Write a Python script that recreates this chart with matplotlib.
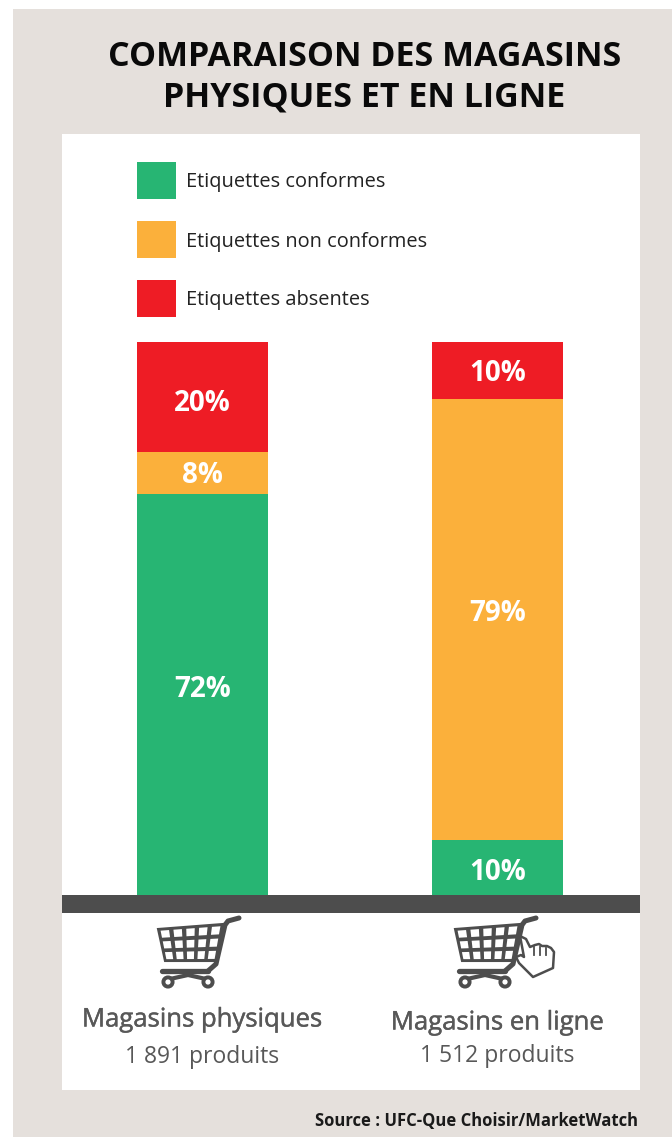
import matplotlib
matplotlib.use("Agg")
import matplotlib.pyplot as plt
from matplotlib.patches import Rectangle, Polygon, Circle
from matplotlib.lines import Line2D
import matplotlib.patheffects as pe
import numpy as np

W, H = 672, 1137
stores = ["Magasins physiques", "Magasins en ligne"]
counts = ["1 891 produits", "1 512 produits"]
series = ["Etiquettes conformes", "Etiquettes non conformes", "Etiquettes absentes"]
# printed percentages
conformes = [72, 10]
non_conformes = [8, 79]
absentes = [20, 10]
# segment heights as drawn in the picture (the printed figures are rounded)
conformes_drawn = [72.5, 10.0]
non_conformes_drawn = [7.6, 79.7]
absentes_drawn = [19.9, 10.3]
colors = ["#27B573", "#FBB03B", "#EE1C25"]
title_lines = ["COMPARAISON DES MAGASINS", "PHYSIQUES ET EN LIGNE"]
source = "Source : UFC-Que Choisir/MarketWatch"

fig = plt.figure(figsize=(W / 100, H / 100), dpi=100, facecolor="white")
bg = fig.add_axes([0, 0, 1, 1])
bg.set_xlim(0, W); bg.set_ylim(H, 0); bg.axis("off")
DARK = "#4D4D4D"
bg.add_patch(Rectangle((13, 9), W - 13, H - 9, fc="#E5E0DC", ec="none"))
bg.add_patch(Rectangle((62, 134), 578, 956, fc="white", ec="none"))
bg.add_patch(Rectangle((62, 895), 578, 18, fc=DARK, ec="none"))

ax = fig.add_axes([62 / W, 1 - 895 / H, 578 / W, 553 / H])
ax.patch.set_alpha(0); ax.axis("off")
ax.set_xlim(-140.5 / 295, 437.5 / 295); ax.set_ylim(0, 100)
labels = np.array([conformes, non_conformes, absentes])
heights = np.array([conformes_drawn, non_conformes_drawn, absentes_drawn])
label_shift = [[9, -2], [1, 9], [-3, 0]]  # pixels, upward, off the segment centre
bottom = np.zeros(2)
for i, c in enumerate(colors):
    ax.bar([0, 1], heights[i], 131 / 295, bottom=bottom, color=c, lw=0)
    for x in range(2):
        ax.annotate(f"{labels[i][x]}%", (x, bottom[x] + heights[i][x] / 2),
                    xytext=(0, label_shift[i][x] * 0.72), textcoords="offset points", color="white",
                    ha="center", va="center_baseline", fontsize=20, fontweight="bold", family="Open Sans")
    bottom += heights[i]

for line, y in zip(title_lines, [53, 93]):
    bg.text(364.5, y, line, ha="center", va="center_baseline", fontsize=24.5, fontweight="bold",
            family="Open Sans", color="#0A0A0A")

for name, c, y in zip(series, colors, [162, 221, 280]):
    bg.add_patch(Rectangle((137, y), 39, 37, fc=c, ec="none"))
    bg.text(186, y + 18, name, ha="left", va="center_baseline", fontsize=14.4,
            family="Open Sans", color="#222222")

def cart(dx, dy=0):
    z = 20
    basket = np.array([[158, 929], [223, 924], [216, 961], [165, 961]], float)
    basket += (dx, dy)
    bg.add_patch(Polygon(basket, fc=DARK, ec=DARK, lw=1.5, zorder=z))
    tl, tr, br, bl = basket
    nx, ny = 5, 3
    for i in range(nx):
        for j in range(ny):
            def pt(u, v):
                a = tl + (tr - tl) * u; b = bl + (br - bl) * u
                return a + (b - a) * v
            m = 0.17
            u0, u1 = (i + m) / nx, (i + 1 - m) / nx
            v0, v1 = (j + m) / ny, (j + 1 - m) / ny
            bg.add_patch(Polygon([pt(u0, v0), pt(u1, v0), pt(u1, v1), pt(u0, v1)],
                                 fc="white", ec="none", zorder=z + 1))
    bg.add_line(Line2D(np.array([239, 228, 225, 216, 208]) + dx,
                       np.array([918, 921, 925, 964, 971]) + dy, color=DARK, lw=3.6,
                       solid_capstyle="round", solid_joinstyle="round", zorder=z))
    bg.add_line(Line2D(np.array([162, 208]) + dx, np.array([971, 971]) + dy, color=DARK, lw=3.8,
                       solid_capstyle="round", zorder=z))
    bg.add_line(Line2D(np.array([170, 188, 206]) + dx, np.array([979, 975, 979]) + dy, color=DARK, lw=3, zorder=z))
    for wx in (168, 208):
        bg.add_patch(Circle((wx + dx, 982 + dy), 4.6, fc="white", ec=DARK, lw=2.8, zorder=z + 1))

cart(0)
cart(297, 0)
hand = np.array([[520, 936], [526, 939], [530, 947], [535, 945], [539, 944], [542, 946], [547, 946],
                 [551, 948], [554, 952], [553, 968], [533, 977], [519, 963], [516, 957], [521, 955], [524, 957]])
bg.add_patch(Polygon(hand, fc="white", ec=DARK, lw=1.8, zorder=25, joinstyle="round"))
for x0, y0, y1 in [(534, 947, 955), (540, 947, 955), (546, 948, 955)]:
    bg.add_line(Line2D([x0, x0], [y0, y1], color=DARK, lw=1.3, zorder=26))

stroke = [pe.withStroke(linewidth=0.3, foreground="#585858")]
for name, n, x, y1, y2 in zip(stores, counts, [202, 497.5], [1017, 1020], [1054, 1053]):
    bg.text(x, y1, name, ha="center", va="center_baseline", fontsize=18.5, family="Open Sans",
            color="#585858", path_effects=stroke)
    bg.text(x, y2, n, ha="center", va="center_baseline", fontsize=16.5, family="Open Sans", color="#585858")
bg.text(638, 1119, source, ha="right", va="center_baseline", fontsize=12, fontweight="bold",
        family="Open Sans", color="#1A1A1A")
fig.savefig("out.png", dpi=100, facecolor="white")
